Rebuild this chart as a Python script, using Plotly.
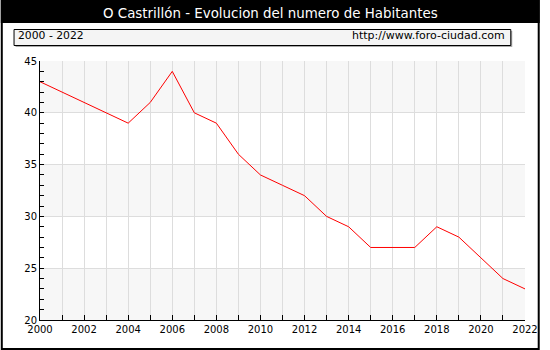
import plotly.graph_objects as go

years = list(range(2000, 2023))
habitantes = [43, 42, 41, 40, 39, 41, 44, 40, 39, 36, 34, 33, 32, 30, 29, 27, 27, 27, 29, 28, 26, 24, 23]
title_text = "O Castrillón - Evolucion del numero de Habitantes"
period_text = "2000 - 2022"
url_text = "http://www.foro-ciudad.com"

W, H = 550, 350
L, R, T, B = 40, 535, 61, 320  # plot area in pixels

def px(x):
    return (x - L) / (R - L)

def py(y):
    return (B - y) / (B - T)

font = "DejaVu Sans, Verdana, sans-serif"

fig = go.Figure()
fig.add_trace(go.Scatter(x=years, y=habitantes, mode="lines",
                         line=dict(color="#ff0000", width=1), hoverinfo="skip"))

shapes = []
# alternating bands
for lo, hi in [(40, 45), (30, 35), (20, 25)]:
    shapes.append(dict(type="rect", xref="x", yref="y", x0=2000, x1=2022, y0=lo, y1=hi,
                       fillcolor="#f7f7f7", line=dict(width=0), layer="below"))
# title bar
shapes.append(dict(type="rect", xref="paper", yref="paper", x0=px(0), x1=px(W), y0=py(0), y1=py(23),
                   fillcolor="#000000", line=dict(width=0), layer="above"))
# outer frame
shapes.append(dict(type="rect", xref="paper", yref="paper", x0=px(1), x1=px(W - 1), y0=py(1), y1=py(H - 1),
                   fillcolor="rgba(0,0,0,0)", line=dict(color="#000000", width=2), layer="above"))
# info box shadow
shapes.append(dict(type="rect", xref="paper", yref="paper", x0=px(15), x1=px(522), y0=py(31), y1=py(47),
                   fillcolor="#aaaaaa", line=dict(width=0), layer="above"))
# info box
shapes.append(dict(type="rect", xref="paper", yref="paper", x0=px(13.5), x1=px(520.5), y0=py(29.5), y1=py(45.5),
                   fillcolor="#f4f4f4", line=dict(color="#000000", width=1), layer="above"))

annotations = [
    dict(text=title_text, xref="paper", yref="paper", x=px(275), y=py(13.5), showarrow=False,
         font=dict(family=font, size=13.4, color="#ffffff"), xanchor="center", yanchor="middle"),
    dict(text=period_text, xref="paper", yref="paper", x=px(16), y=py(36), showarrow=False,
         font=dict(family=font, size=10.8, color="#000000"), xanchor="left", yanchor="middle"),
    dict(text=url_text, xref="paper", yref="paper", x=px(517), y=py(36), showarrow=False,
         font=dict(family=font, size=11, color="#000000"), xanchor="right", yanchor="middle"),
]

fig.update_layout(
    width=W, height=H, autosize=False,
    margin=dict(l=L, r=W - R, t=T, b=H - B, pad=0),
    paper_bgcolor="#ffffff", plot_bgcolor="#ffffff",
    showlegend=False,
    shapes=shapes, annotations=annotations,
    font=dict(family=font, size=10, color="#000000"),
)
fig.update_xaxes(range=[2000, 2022], dtick=2, tick0=2000, ticks="inside", ticklen=5, tickcolor="#000000",
                 showline=True, linecolor="#000000", linewidth=1, showgrid=True, gridcolor="#dddddd", gridwidth=1,
                 zeroline=False, tickfont=dict(family=font, size=10, color="#000000"),
                 minor=dict(dtick=1, tick0=2000, ticks="inside", ticklen=5, tickcolor="#000000",
                            showgrid=True, gridcolor="#dddddd", gridwidth=1),
                 fixedrange=True)
fig.update_yaxes(range=[20, 45], dtick=5, tick0=20, ticks="inside", ticklen=4, tickcolor="#000000",
                 showline=True, linecolor="#000000", linewidth=1, showgrid=True, gridcolor="#dddddd", gridwidth=1,
                 zeroline=False, tickfont=dict(family=font, size=10, color="#000000"),
                 minor=dict(dtick=1, tick0=20, ticks="inside", ticklen=4, tickcolor="#000000", showgrid=False),
                 fixedrange=True)

fig.write_html("out.html", config={"displayModeBar": False, "responsive": False},
               default_width="550px", default_height="350px",
               post_script="document.body.style.margin='0';document.body.style.overflow='hidden';")
